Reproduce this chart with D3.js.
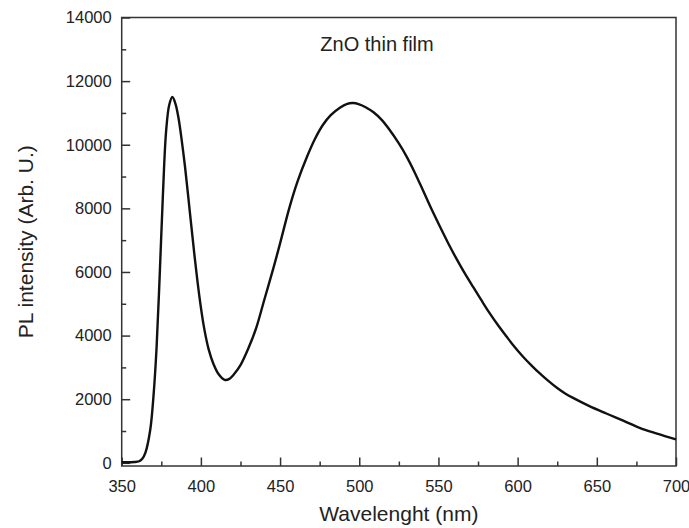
<!DOCTYPE html>
<html>
<head>
<meta charset="utf-8">
<script src="https://cdn.jsdelivr.net/npm/d3@7"></script>
<style>
  html, body { margin: 0; padding: 0; background: #fff; }
  svg { display: block; }
  text { font-family: "Liberation Sans", Arial, sans-serif; fill: #222; }
</style>
</head>
<body>
<svg id="chart" width="689" height="528"></svg>
<script>
// ---- data ----
const wavelength = [350, 358, 361, 363, 365, 368, 370, 372, 374, 376, 378, 380, 382, 384, 386, 388, 390, 393, 396, 399, 402, 405, 408, 411, 415, 418, 421, 425, 430, 435, 440, 446, 450, 456, 461, 467, 472, 477, 482, 488, 492, 496, 500, 504, 509, 514, 519, 525, 530, 535, 540, 545, 551, 556, 561, 566, 572, 577, 582, 588, 593, 598, 603, 609, 614, 619, 625, 630, 635, 645, 656, 667, 677, 688, 700];
const intensity  = [20, 25, 50, 130, 320, 1030, 2050, 3600, 5900, 8400, 10400, 11250, 11500, 11280, 10800, 10100, 9300, 7900, 6500, 5250, 4250, 3550, 3100, 2800, 2610, 2640, 2790, 3070, 3600, 4250, 5120, 6160, 6900, 8040, 8840, 9620, 10180, 10620, 10930, 11170, 11280, 11310, 11270, 11180, 11020, 10790, 10480, 10040, 9620, 9130, 8590, 8040, 7420, 6920, 6450, 6010, 5520, 5120, 4730, 4300, 3970, 3650, 3360, 3050, 2810, 2590, 2350, 2180, 2040, 1790, 1550, 1320, 1100, 920, 740];
const xMajorTicks = [350, 400, 450, 500, 550, 600, 650, 700];
const xMinorTicks = [375, 425, 475, 525, 575, 625, 675];
const yMajorTicks = [0, 2000, 4000, 6000, 8000, 10000, 12000, 14000];
const yMinorTicks = [1000, 3000, 5000, 7000, 9000, 11000, 13000];
const titleText = "ZnO thin film";
const xLabel = "Wavelenght (nm)";
const yLabel = "PL intensity (Arb. U.)";

const svg = d3.select("#chart");
const L = 121.7, R = 676, T = 17.5, B = 466;

const x = d3.scaleLinear().domain([350, 700]).range([L, R]);
const y = d3.scaleLinear().domain([-100, 14000]).range([B, T]);

const axisColor = "#333";

// frame
svg.append("rect")
  .attr("x", L).attr("y", T).attr("width", R - L).attr("height", B - T)
  .attr("fill", "none").attr("stroke", axisColor).attr("stroke-width", 1.5);

// x axis (ticks inward)
const gx = svg.append("g").attr("transform", `translate(0,${B})`);
gx.call(d3.axisBottom(x).tickValues(xMajorTicks).tickSize(-8.5).tickPadding(14).tickFormat(d3.format("d")));
gx.append("g").call(d3.axisBottom(x).tickValues(xMinorTicks).tickSize(-4.5).tickFormat(""));
gx.selectAll(".domain").remove();
gx.selectAll("line").attr("stroke", axisColor).attr("stroke-width", 1.5);
gx.selectAll("text").attr("font-size", "16.5px").attr("fill", "#222")
  .attr("font-family", "'Liberation Sans', Arial, sans-serif");

// y axis (ticks inward)
const gy = svg.append("g").attr("transform", `translate(${L},0)`);
gy.call(d3.axisLeft(y).tickValues(yMajorTicks).tickSize(-8.5).tickPadding(10).tickFormat(d3.format("d")));
gy.append("g").call(d3.axisLeft(y).tickValues(yMinorTicks).tickSize(-4.5).tickFormat(""));
gy.selectAll(".domain").remove();
gy.selectAll("line").attr("stroke", axisColor).attr("stroke-width", 1.5);
gy.selectAll("text").attr("font-size", "16.5px").attr("fill", "#222")
  .attr("font-family", "'Liberation Sans', Arial, sans-serif");

// curve
const data = wavelength.map((w, i) => ({ w, v: intensity[i] }));
const line = d3.line().x(d => x(d.w)).y(d => y(d.v)).curve(d3.curveCatmullRom.alpha(0.5));
svg.append("path").datum(data)
  .attr("d", line).attr("fill", "none")
  .attr("stroke", "#111").attr("stroke-width", 2.4)
  .attr("stroke-linejoin", "round");

// title inside plot
svg.append("text").attr("x", 377).attr("y", 51)
  .attr("text-anchor", "middle").attr("font-size", "20px").text(titleText);

// axis labels
svg.append("text").attr("x", (L + R) / 2).attr("y", 521)
  .attr("text-anchor", "middle").attr("font-size", "21px").text(xLabel);
svg.append("text")
  .attr("transform", `translate(33,${(T + B) / 2}) rotate(-90)`)
  .attr("text-anchor", "middle").attr("font-size", "21px").text(yLabel);
</script>
</body>
</html>
